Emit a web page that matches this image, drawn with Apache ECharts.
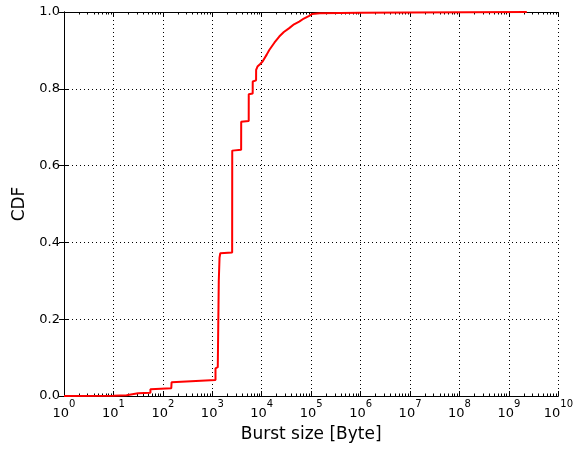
<!DOCTYPE html>
<html>
<head>
<meta charset="utf-8">
<script src="https://cdn.jsdelivr.net/npm/echarts@6/dist/echarts.min.js"></script>
<style>
  html, body { margin: 0; padding: 0; background: #fff; }
  #chart { width: 576px; height: 451px; }
</style>
</head>
<body>
<div id="chart"></div>
<script>
// Empirical CDF of burst sizes (bytes)
const burstBytes = [1, 10, 18.4, 31.5, 56, 56, 148, 150, 1160, 1160, 1290, 1352, 1400, 1450,
  2520, 2530, 3830, 3840, 5450, 5460, 6560, 6570, 7680, 7700, 8200, 9200, 10400, 12600, 14200,
  18000, 22600, 28000, 36000, 45000, 57300, 71000, 91200, 105000, 150000, 1e6, 1e7, 2.3e9];
const cdfValues = [0, 0.0005, 0.002, 0.007, 0.0086, 0.0174, 0.020, 0.0357, 0.0417, 0.072, 0.075,
  0.30, 0.36, 0.372, 0.374, 0.639, 0.641, 0.714, 0.716, 0.786, 0.788, 0.819, 0.822, 0.849,
  0.858, 0.864, 0.871, 0.889, 0.901, 0.920, 0.936, 0.948, 0.958, 0.968, 0.975, 0.983, 0.990,
  0.995, 0.997, 0.998, 0.999, 1.0];

// Axis tick definitions: decade exponents for the x axis, CDF levels for y
const xDecades = [0, 1, 2, 3, 4, 5, 6, 7, 8, 9, 10];
const yTicks = [0.0, 0.2, 0.4, 0.6, 0.8, 1.0];

// minor ticks at 2..9 x 10^d, expressed in decade units
const minorTickPos = [];
for (let d = 0; d < 10; d++) {
  for (let k = 2; k <= 9; k++) minorTickPos.push(d + Math.log10(k));
}

const FONT = 'DejaVu Sans';
const black = '#000';
const dotted = { color: black, width: 1, type: [1, 3] };
const tickStyle = { color: black, width: 1 };

const chart = echarts.init(document.getElementById('chart'), null, { renderer: 'canvas' });

// decade-unit axis carrying ticks for the log-scaled data axis
const decadeAxis = (pos, extra) => Object.assign({
  type: 'value', gridIndex: 0, position: pos, min: 0, max: 10,
  axisLine: { show: false },
  axisTick: { show: true, inside: true, length: 5, lineStyle: tickStyle, customValues: xDecades },
  axisLabel: { show: false },
  splitLine: { show: false }
}, extra || {});

const minorAxis = (pos) => decadeAxis(pos, {
  axisTick: { show: true, inside: true, length: 2.5, lineStyle: tickStyle, customValues: minorTickPos }
});

chart.setOption({
  animation: false,
  backgroundColor: '#fff',
  grid: { left: 64, right: 16, top: 12, bottom: 55, containLabel: false },
  xAxis: [
    {
      // data axis (log scale)
      type: 'log', logBase: 10, min: 1, max: 1e10, position: 'bottom',
      axisLine: { show: true, lineStyle: tickStyle },
      axisTick: { show: false },
      axisLabel: { show: false },
      splitLine: { show: false }
    },
    decadeAxis('bottom', {
      interval: 1,
      name: 'Burst size [Byte]', nameLocation: 'middle', nameGap: 30,
      nameTextStyle: { fontFamily: FONT, fontSize: 17, color: black, verticalAlign: 'top' },
      axisLabel: {
        show: true, margin: 3,
        customValues: xDecades,
        formatter: (v) => '{b|10}{e|' + Math.round(v) + '}',
        rich: {
          b: { fontFamily: FONT, fontSize: 13, color: black, lineHeight: 21, verticalAlign: 'bottom' },
          e: { fontFamily: FONT, fontSize: 10, color: black, lineHeight: 9, verticalAlign: 'top' }
        }
      },
      splitLine: { show: true, lineStyle: dotted }
    }),
    minorAxis('bottom'),
    decadeAxis('top', { axisLine: { show: true, lineStyle: tickStyle } }),
    minorAxis('top')
  ],
  yAxis: [
    {
      type: 'value', min: 0, max: 1, interval: 0.2, position: 'left',
      name: 'CDF', nameLocation: 'middle', nameGap: 36, nameRotate: 90,
      nameTextStyle: { fontFamily: FONT, fontSize: 17, color: black },
      axisLine: { show: true, lineStyle: tickStyle },
      axisTick: { show: true, inside: true, length: 5, lineStyle: tickStyle, customValues: yTicks },
      axisLabel: { margin: 4, fontFamily: FONT, fontSize: 13, color: black, customValues: yTicks, formatter: (v) => v.toFixed(1) },
      splitLine: { show: true, lineStyle: dotted }
    },
    {
      type: 'value', min: 0, max: 1, interval: 0.2, position: 'right',
      axisLine: { show: true, lineStyle: tickStyle },
      axisTick: { show: true, inside: true, length: 5, lineStyle: tickStyle, customValues: yTicks },
      axisLabel: { show: false },
      splitLine: { show: false }
    }
  ],
  series: [
    {
      type: 'line',
      xAxisIndex: 0, yAxisIndex: 0,
      data: burstBytes.map((b, i) => [b, cdfValues[i]]),
      showSymbol: false,
      symbol: 'none',
      lineStyle: { color: '#ff0000', width: 2 },
      z: 5
    }
  ]
});
</script>
</body>
</html>
